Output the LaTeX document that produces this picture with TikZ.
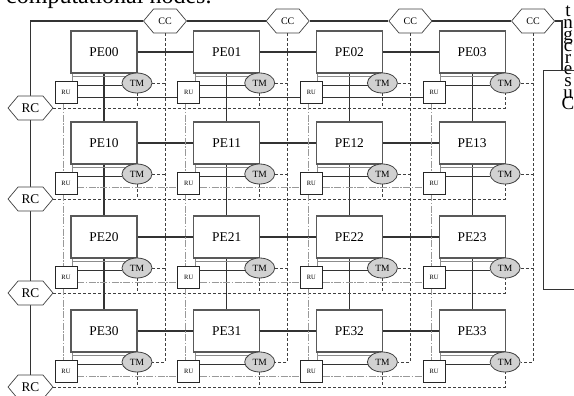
\documentclass[tikz,border=0pt]{standalone}
\usepackage{fontspec}
\setmainfont{Liberation Serif}
\usetikzlibrary{shapes.geometric,shapes.symbols,calc}
\pgfdeclarelayer{bg}
\pgfsetlayers{bg,main}
\tikzset{
 pebox/.style={draw=black!65, line width=1.1pt, fill=white, minimum width=66pt, minimum height=42pt, inner sep=0pt, font=\fontsize{13.4}{16}\selectfont},
 tmnode/.style={ellipse, draw=black!75, line width=0.8pt, fill=black!18, minimum width=30pt, minimum height=20pt, inner sep=0pt, font=\fontsize{9.5}{11}\selectfont},
 runode/.style={draw=black!85, line width=0.6pt, fill=white, minimum width=22pt, minimum height=22pt, inner sep=0pt, font=\fontsize{6.5}{8}\selectfont},
 hexnode/.style={signal, signal to=west and east, signal pointer angle=100, draw=black!75, line width=0.7pt, fill=white, minimum height=24pt, inner sep=0pt},
 mainline/.style={draw=black!80, line width=1.2pt},
 thinline/.style={draw=black!80, line width=0.9pt},
 dashline/.style={draw=black!75, line width=0.7pt, dash pattern=on 3pt off 2pt},
 grayline/.style={draw=black!45, line width=0.9pt},
 rulink/.style={draw=black!40, line width=1pt, dash pattern=on 7pt off 1.5pt on 1.5pt off 1.5pt},
}
\begin{document}
\begin{tikzpicture}[x=1pt,y=-1pt]
\useasboundingbox (0,0) rectangle (574,396);
% clipped caption fragments
\node[anchor=base west, inner sep=0pt, font=\fontsize{24}{24}\selectfont] (caption) at (6,4) {computational nodes.};
\foreach \ch [count=\i] in {t,n,g,c,r,e,s,u,C}
  \node[anchor=base, inner sep=0pt, font=\fontsize{19}{19}\selectfont] (side\i) at (568,{17+11.6*(\i-1)}) {\ch};
\draw[thinline] (585,70) -- (543,70) -- (543,289) -- (585,289);
% CC and RC hexagons
\foreach \c in {0,...,3}
  \node[hexnode, minimum width=43pt, font=\fontsize{10}{12}\selectfont] (cc\c) at ({71+122.7*\c+94},21) {CC};
\foreach \r/\T in {0/31,1/122,2/216,3/310}
  \node[hexnode, minimum width=45pt, font=\fontsize{13.3}{15}\selectfont] (rc\r) at (30.5,\T+77) {RC};
% PE, TM, RU
\foreach \r/\T in {0/31,1/122,2/216,3/310}{
  \foreach \c in {0,...,3}{
    \pgfmathsetmacro{\L}{71+122.7*\c}
    \node[pebox] (pe\r\c) at (\L+33,\T+21) {PE\r\c};
    \node[tmnode] (tm\r\c) at (\L+66,\T+52) {TM};
    \node[runode] (ru\r\c) at (\L-5,\T+61) {RU};
  }
}
\coordinate (tl) at (rc0.north |- cc0.west);
\coordinate (tr) at (562,21);
\coordinate (trb) at (562,70);
\begin{pgfonlayer}{bg}
  \draw[mainline] (rc0.north) -- (tl) -- (cc0.west);
  \foreach \c [evaluate=\c as \n using int(\c+1)] in {0,1,2}
    \draw[mainline] (cc\c.east) -- (cc\n.west);
  \draw[mainline] (cc3.east) -- (tr) -- (trb);
  \foreach \r [evaluate=\r as \n using int(\r+1)] in {0,1,2}
    \draw[mainline] (rc\r.south) -- (rc\n.north);
  % mesh links
  \foreach \r in {0,...,3}{
    \foreach \c [evaluate=\c as \n using int(\c+1)] in {0,1,2}
      \draw[mainline] (pe\r\c.east) -- (pe\r\n.west);
  }
  \foreach \r [evaluate=\r as \n using int(\r+1)] in {0,1,2}{
    \foreach \c in {0,...,3}
      \draw[mainline] (pe\r\c.south) -- (pe\n\c.north);
  }
  % CC buses
  \foreach \c in {0,...,3}{
    \draw[dashline] (cc\c.south) |- (tm3\c.east);
    \foreach \r in {0,1,2}
      \draw[dashline] (tm\r\c.east) -- (tm\r\c.east -| cc\c.south);
  }
  % RC buses
  \foreach \r in {0,...,3}{
    \draw[dashline] (rc\r.east) -| (tm\r3.south);
    \foreach \c in {0,1,2}
      \draw[dashline] (tm\r\c.south) -- (tm\r\c.south |- rc\r.east);
  }
  % RU connections
  \foreach \r in {0,...,3}{
    \foreach \c in {0,...,3}{
      \draw[thinline] (ru\r\c.east |- tm\r\c.190) -- (tm\r\c.190);
      \draw[grayline] ([xshift=2pt]pe\r\c.south west) -- ([xshift=2pt]pe\r\c.south west |- ru\r\c.north);
      \draw[grayline] ([xshift=2pt,yshift=-3pt]pe\r\c.south west) -- ([yshift=-3pt]pe\r\c.south west -| tm\r\c.center);
    }
  }
  \foreach \c [evaluate=\c as \n using int(\c+1)] in {0,1,2}{
    \draw[thinline] ([yshift=-5pt]ru0\c.east) -- ([yshift=-5pt]ru0\n.west);
    \foreach \r in {1,2,3}
      \draw[rulink] ([yshift=-5pt]ru\r\c.east) -- ([yshift=-5pt]ru\r\n.west);
  }
  \foreach \r [evaluate=\r as \n using int(\r+1)] in {0,1,2}{
    \foreach \c in {0,...,3}
      \draw[rulink] ([xshift=-3pt]ru\r\c.south) -- ([xshift=-3pt]ru\n\c.north);
  }
\end{pgfonlayer}
\end{tikzpicture}
\end{document}
